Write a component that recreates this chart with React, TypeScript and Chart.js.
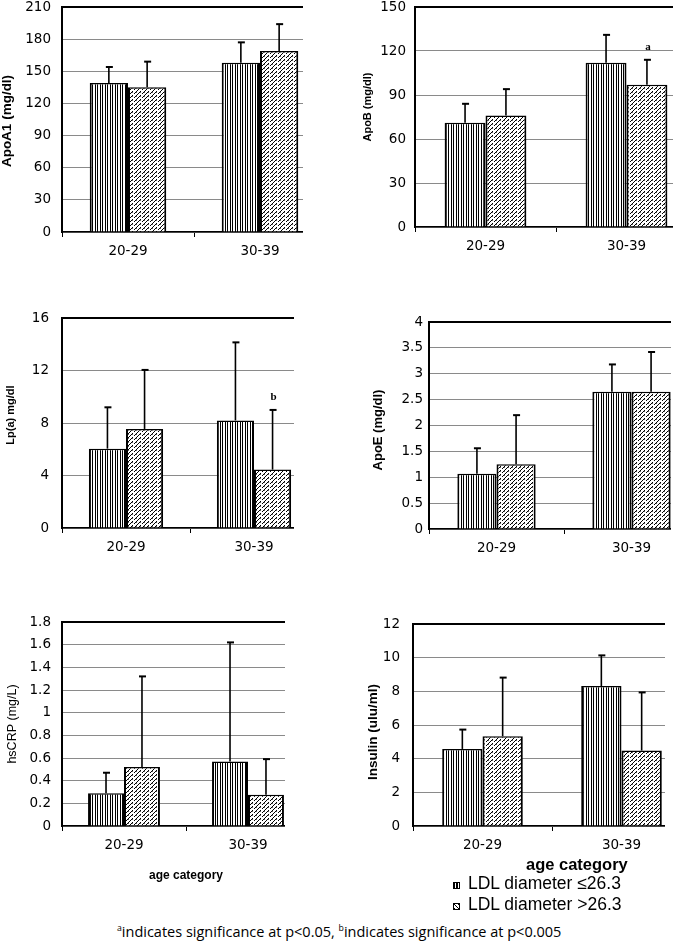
import React, { useEffect, useRef } from 'react';
import { Chart, registerables } from 'chart.js';
Chart.register(...registerables);

// ---------- data ----------
const categories = ['20-29', '30-39'];
const seriesLabels = ['LDL diameter ≤26.3', 'LDL diameter >26.3'];

const apoA1Small = [139, 158];
const apoA1SmallSD = [15, 19];
const apoA1Large = [135, 169];
const apoA1LargeSD = [24, 25];

const apoBSmall = [71, 112];
const apoBSmallSD = [13, 19];
const apoBLarge = [76, 97];
const apoBLargeSD = [18, 17];

const lpaSmall = [6.05, 8.2];
const lpaSmallSD = [3.15, 5.95];
const lpaLarge = [7.55, 4.45];
const lpaLargeSD = [4.5, 4.55];

const apoESmall = [1.07, 2.65];
const apoESmallSD = [0.49, 0.53];
const apoELarge = [1.25, 2.65];
const apoELargeSD = [0.95, 0.77];

const crpSmall = [0.29, 0.57];
const crpSmallSD = [0.18, 1.05];
const crpLarge = [0.52, 0.275];
const crpLargeSD = [0.8, 0.315];

const insulinSmall = [4.58, 8.32];
const insulinSmallSD = [1.15, 1.82];
const insulinLarge = [5.33, 4.48];
const insulinLargeSD = [3.49, 3.46];

const noSig = ['', ''];
const apoBLargeSig = ['', 'a'];
const lpaLargeSig = ['', 'b'];

// y axis: [min, max, step]
const apoA1Axis = [0, 210, 30];
const apoBAxis = [0, 150, 30];
const lpaAxis = [0, 16, 4];
const apoEAxis = [0, 4, 0.5];
const crpAxis = [0, 1.8, 0.2];
const insulinAxis = [0, 12, 2];

const yTitles = ['ApoA1 (mg/dl)', 'ApoB (mg/dl)', 'Lp(a) mg/dl', 'ApoE (mg/dl)', 'hsCRP (mg/L)', 'Insulin (ulu/ml)'];
const xTitle = 'age category';

// ---------- layout / style ----------
const SANS = '"Liberation Sans", Arial, sans-serif';
const TICK_FONT = { family: '"DejaVu Sans", sans-serif', size: 13.5 };

type PanelCfg = {
  small: number[]; smallSD: number[]; large: number[]; largeSD: number[];
  smallSig: string[]; largeSig: string[]; axis: number[];
  title: string; titleFont: string; titleX: number; titleY: number;
  L: number; T: number; B: number; catW: number; clip: number; canvasLeft: number; tickPad: number;
  xTitle?: string; H?: number;
};

const panels: PanelCfg[] = [
  { small: apoA1Small, smallSD: apoA1SmallSD, large: apoA1Large, largeSD: apoA1LargeSD, smallSig: noSig, largeSig: noSig, axis: apoA1Axis,
    title: yTitles[0], titleFont: `bold 13.5px ${SANS}`, titleX: 7, titleY: 121,
    L: 62, T: 7, B: 232, catW: 132, clip: 303, canvasLeft: 0, tickPad: 11 },
  { small: apoBSmall, smallSD: apoBSmallSD, large: apoBLarge, largeSD: apoBLargeSD, smallSig: noSig, largeSig: apoBLargeSig, axis: apoBAxis,
    title: yTitles[1], titleFont: `bold 11px ${SANS}`, titleX: 368, titleY: 107,
    L: 415, T: 7, B: 227, catW: 141, clip: 673, canvasLeft: 336, tickPad: 9 },
  { small: lpaSmall, smallSD: lpaSmallSD, large: lpaLarge, largeSD: lpaLargeSD, smallSig: noSig, largeSig: lpaLargeSig, axis: lpaAxis,
    title: yTitles[2], titleFont: `bold 11px ${SANS}`, titleX: 11, titleY: 415,
    L: 62, T: 317, B: 528, catW: 128, clip: 294, canvasLeft: 0, tickPad: 13 },
  { small: apoESmall, smallSD: apoESmallSD, large: apoELarge, largeSD: apoELargeSD, smallSig: noSig, largeSig: noSig, axis: apoEAxis,
    title: yTitles[3], titleFont: `bold 13px ${SANS}`, titleX: 378, titleY: 430,
    L: 429, T: 322, B: 529, catW: 135, clip: 671, canvasLeft: 336, tickPad: 6 },
  { small: crpSmall, smallSD: crpSmallSD, large: crpLarge, largeSD: crpLargeSD, smallSig: noSig, largeSig: noSig, axis: crpAxis,
    title: yTitles[4], titleFont: `12.5px ${SANS}`, titleX: 13, titleY: 724,
    L: 62, T: 622, B: 826, catW: 124, clip: 285, canvasLeft: 0, tickPad: 11, xTitle: xTitle, H: 281 },
  { small: insulinSmall, smallSD: insulinSmallSD, large: insulinLarge, largeSD: insulinLargeSD, smallSig: noSig, largeSig: noSig, axis: insulinAxis,
    title: yTitles[5], titleFont: `bold 13.5px ${SANS}`, titleX: 373, titleY: 732,
    L: 413, T: 623, B: 826, catW: 139, clip: 665, canvasLeft: 336, tickPad: 13 },
];

function stripeTile() {
  const c = document.createElement('canvas');
  c.width = 5; c.height = 5;
  const g = c.getContext('2d')!;
  g.fillStyle = '#fff'; g.fillRect(0, 0, 5, 5);
  g.fillStyle = '#000';
  g.fillRect(0, 0, 1, 5);
  g.fillRect(2, 0, 1, 5);
  return c;
}

function diagTile() {
  const n = 8;
  const c = document.createElement('canvas');
  c.width = n; c.height = n;
  const g = c.getContext('2d')!;
  g.fillStyle = '#fff'; g.fillRect(0, 0, n, n);
  for (let x = 0; x < n; x++) {
    for (let y = 0; y < n; y++) {
      const d = (x + y) % 4;
      if (d === 0 && x % 8 !== 5) { g.fillStyle = '#000'; g.fillRect(x, y, 1, 1); }
      else if (d === 1 && x % 4 === 0) { g.fillStyle = '#666'; g.fillRect(x, y, 1, 1); }
    }
  }
  return c;
}

function PanelChart({ p }: { p: PanelCfg }) {
  const ref = useRef<HTMLCanvasElement>(null);
  const canvasTop = p.T - 20;
  const yw = p.L - p.canvasLeft;
  const W = yw + 2 * p.catW;
  const H = p.H ?? (p.B - canvasTop + 30);
  const xh = H - (p.B - canvasTop);

  useEffect(() => {
    const canvas = ref.current!;
    const ctx2 = canvas.getContext('2d')!;
    const pat1 = ctx2.createPattern(stripeTile(), 'repeat')!;
    const pat2 = ctx2.createPattern(diagTile(), 'repeat')!;
    const [ymin, ymax, ystep] = p.axis;

    const errorBars = {
      id: 'errorBars',
      afterDatasetsDraw(chart: any) {
        const ctx = chart.ctx;
        const ys = chart.scales.y;
        chart.data.datasets.forEach((ds: any, i: number) => {
          const meta = chart.getDatasetMeta(i);
          meta.data.forEach((bar: any, j: number) => {
            const top = ys.getPixelForValue(ds.data[j] + ds.sd[j]);
            ctx.save();
            ctx.strokeStyle = '#000';
            ctx.lineWidth = 1.6;
            ctx.beginPath();
            ctx.moveTo(bar.x, bar.y);
            ctx.lineTo(bar.x, top);
            ctx.stroke();
            ctx.lineWidth = 2;
            ctx.beginPath();
            ctx.moveTo(bar.x - 3, top);
            ctx.lineTo(bar.x + 4, top);
            ctx.stroke();
            if (ds.sig[j]) {
              ctx.fillStyle = '#000';
              ctx.font = 'bold 11px "Liberation Serif", serif';
              ctx.textAlign = 'center';
              ctx.textBaseline = 'middle';
              ctx.fillText(ds.sig[j], bar.x + 1, top - 13);
            }
            ctx.restore();
          });
        });
      },
    };

    const yTitle = {
      id: 'yTitle',
      afterDraw(chart: any) {
        const ctx = chart.ctx;
        ctx.save();
        ctx.translate(p.titleX - p.canvasLeft, p.titleY - canvasTop);
        ctx.rotate(-Math.PI / 2);
        ctx.font = p.titleFont;
        ctx.fillStyle = '#000';
        ctx.textAlign = 'center';
        ctx.textBaseline = 'middle';
        ctx.fillText(p.title, 0, 0);
        ctx.restore();
      },
    };

    const chart = new Chart(canvas, {
      type: 'bar',
      data: {
        labels: categories,
        datasets: [
          { label: seriesLabels[0], data: p.small, sd: p.smallSD, sig: p.smallSig, backgroundColor: pat1, borderColor: '#000',
            borderWidth: { top: 1.5, left: 2, right: 2, bottom: 0 } } as any,
          { label: seriesLabels[1], data: p.large, sd: p.largeSD, sig: p.largeSig, backgroundColor: pat2, borderColor: '#000',
            borderWidth: { top: 1.5, left: 2, right: 2, bottom: 0 } } as any,
        ],
      },
      options: {
        responsive: false,
        animation: false,
        events: [],
        layout: { padding: { top: 20, left: 0, right: 0, bottom: 0 } },
        datasets: { bar: { categoryPercentage: 0.58, barPercentage: 1 } },
        plugins: { legend: { display: false }, tooltip: { enabled: false }, title: { display: false } },
        scales: {
          x: {
            grid: { display: true, drawOnChartArea: false, offset: true, tickLength: 5, color: '#000', lineWidth: 1 },
            border: { color: '#000', width: 1.5 },
            ticks: { padding: 6, font: TICK_FONT, color: '#000', maxRotation: 0 },
            title: p.xTitle
              ? { display: true, text: p.xTitle, color: '#000', font: { family: SANS, size: 12, weight: 'bold' }, padding: { top: 0, bottom: 0 } }
              : { display: false },
            afterFit: (s: any) => { s.height = xh; },
          },
          y: {
            min: ymin,
            max: ymax,
            ticks: {
              stepSize: ystep,
              autoSkip: false,
              padding: p.tickPad,
              font: TICK_FONT,
              color: '#000',
              callback: (v: any) => String(Math.round(Number(v) * 100) / 100),
            },
            grid: {
              drawTicks: false,
              color: (c: any) => (c.tick && c.tick.value === ymax ? '#000' : '#8a8a8a'),
              lineWidth: (c: any) => (c.tick && c.tick.value === ymax ? 2 : 1),
            },
            border: { color: '#000', width: 2 },
            afterFit: (s: any) => { s.width = yw; },
          },
        },
      } as any,
      plugins: [errorBars, yTitle],
    });
    return () => chart.destroy();
  }, []);

  return (
    <div style={{ position: 'absolute', left: p.canvasLeft, top: canvasTop, width: p.clip - p.canvasLeft, height: H, overflow: 'hidden' }}>
      <canvas ref={ref} width={W} height={H} style={{ display: 'block', width: W, height: H }} />
    </div>
  );
}

const stripeCss = 'repeating-linear-gradient(90deg, #000 0 1px, #fff 1px 2.5px)';
const crossCss = 'repeating-linear-gradient(45deg, #000 0 1px, #fff 1px 3px), #fff';

export default function App() {
  return (
    <div style={{ position: 'absolute', left: 0, top: 0, width: 673, height: 946, overflow: 'hidden', background: '#fff' }}>
      {panels.map((p, i) => <PanelChart key={i} p={p} />)}

      <div style={{ position: 'absolute', left: 526, top: 856, font: `bold 16.5px ${SANS}`, lineHeight: 1, color: '#000', whiteSpace: 'nowrap' }}>
        {xTitle}
      </div>
      {seriesLabels.map((s, i) => (
        <React.Fragment key={s}>
          <div style={{ position: 'absolute', left: 453, top: 882 + i * 21, width: 5, height: 5, border: '1.5px solid #000',
            background: i === 0 ? stripeCss : crossCss }} />
          <div style={{ position: 'absolute', left: 468, top: 875 + i * 21, font: `17.5px ${SANS}`, lineHeight: 1, color: '#000', whiteSpace: 'nowrap' }}>
            {s}
          </div>
        </React.Fragment>
      ))}

      <div style={{ position: 'absolute', left: 117, top: 924, font: '14.5px "Open Sans", sans-serif', lineHeight: 1, color: '#000', whiteSpace: 'nowrap' }}>
        <sup style={{ fontSize: '0.6em' }}>a</sup>indicates significance at p&lt;0.05, <sup style={{ fontSize: '0.6em' }}>b</sup>indicates significance at p&lt;0.005
      </div>
    </div>
  );
}
